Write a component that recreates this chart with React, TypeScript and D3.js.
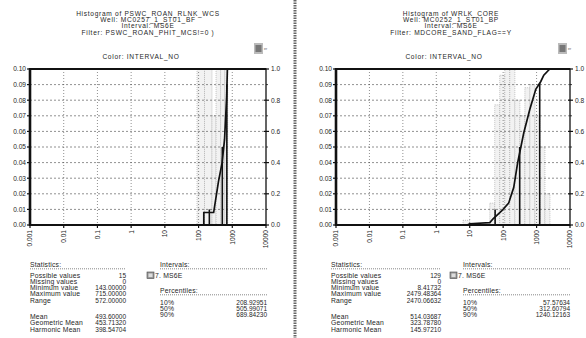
import React from "react";
import * as d3 from "d3";

const xTickValues = [0.001, 0.01, 0.1, 1, 10, 100, 1000, 10000];
const xTickLabels = ["0.001", "0.01", "0.1", "1", "10", "100", "1000", "10000"];
const freqTicks = [0, 0.01, 0.02, 0.03, 0.04, 0.05, 0.06, 0.07, 0.08, 0.09, 0.1];
const freqTickLabels = ["0.00", "0.01", "0.02", "0.03", "0.04", "0.05", "0.06", "0.07", "0.08", "0.09", "0.10"];
const cumTicks = [0, 0.2, 0.4, 0.6, 0.8, 1.0];
const cumTickLabels = ["0.0", "0.2", "0.4", "0.6", "0.8", "1.0"];
const cumMinorTicks = [0.1, 0.3, 0.5, 0.7, 0.9];

const statLabels = ["Possible values", "Missing values", "Minimum value", "Maximum value", "Range"];
const meanLabels = ["Mean", "Geometric Mean", "Harmonic Mean"];
const pctLabels = ["10%", "50%", "90%"];
const pctLevels = [0.1, 0.5, 0.9];

// Panel A
const titleA = ["Histogram of PSWC_ROAN_RLNK_WCS", "Well: MC0257_1_ST01_BF", "Interval: MS6E", "Filter: PSWC_ROAN_PHIT_MCS!=0 )"];
const binLoA = [90, 150, 250, 330, 450, 600];
const binHiA = [150, 250, 330, 450, 600, 730];
const binFreqA = [0.12, 0.13, 0.07, 0.2, 0.27, 0.27];
const cumXA = [143, 143, 280, 390, 500, 590, 680, 715];
const cumYA = [0, 0.08, 0.08, 0.28, 0.4, 0.55, 0.82, 1.0];
const statValsA = ["15", "0", "143.00000", "715.00000", "572.00000"];
const meanValsA = ["493.60000", "453.71320", "398.54704"];
const pctValsA = [208.92951, 505.99071, 689.8423];
const pctTextA = ["208.92951", "505.99071", "689.84230"];

// Panel B
const titleB = ["Histogram of WRLK_CORE", "Well: MC0252_1_ST01_BP", "Interval: MS6E", "Filter: MDCORE_SAND_FLAG==Y"];
const binLoB = [6.3, 40, 56, 79, 112, 158, 224, 316, 447, 631, 891, 1259, 1778];
const binHiB = [10, 56, 79, 112, 158, 224, 316, 447, 631, 891, 1259, 1778, 2512];
const binFreqB = [0.003, 0.014, 0.077, 0.096, 0.12, 0.12, 0.08, 0.07, 0.088, 0.09, 0.07, 0.05, 0.02];
const cumXB = [8.4, 10, 40, 50, 90, 146, 207, 272, 413, 626, 947, 1337, 1644, 2479];
const cumYB = [0, 0.008, 0.015, 0.04, 0.09, 0.14, 0.24, 0.4, 0.59, 0.74, 0.87, 0.92, 0.96, 1.0];
const statValsB = ["129", "0", "8.41732", "2479.48364", "2470.06632"];
const meanValsB = ["514.03687", "323.78780", "145.97210"];
const pctValsB = [57.57634, 312.60794, 1240.12163];
const pctTextB = ["57.57634", "312.60794", "1240.12163"];

const FONT = "'Liberation Sans', Arial, sans-serif";
const TXT = "#262626";
const FS_T = 6.6; // titles
const LS_T = 0.7;
const FS_L = 6.8; // block labels
const LS_L = 0.2;
const FS_V = 6.5; // numeric values

type PanelProps = {
  x0: number;
  x1: number;
  titleX: number;
  colorX: number;
  statX: number;
  statValX: number;
  intX: number;
  intEndX: number;
  title: string[];
  binLo: number[];
  binHi: number[];
  binFreq: number[];
  cumX: number[];
  cumY: number[];
  statVals: string[];
  meanVals: string[];
  pctVals: number[];
  pctText: string[];
};

function Panel(p: PanelProps) {
  const yTop = 69;
  const yBot = 225;
  const x = d3.scaleLog().domain([0.001, 10000]).range([p.x0, p.x1]);
  const yF = d3.scaleLinear().domain([0, 0.1]).range([yBot, yTop]).clamp(true);
  const yC = d3.scaleLinear().domain([0, 1]).range([yBot, yTop]);

  const cumPts: [number, number][] = p.cumX.map((v, i) => [x(v), yC(p.cumY[i])]);
  const line = d3.line();
  const interp = (v: number) => {
    for (let i = 1; i < p.cumX.length; i++) {
      if (v <= p.cumX[i]) {
        const a = Math.log(p.cumX[i - 1]);
        const b = Math.log(p.cumX[i]);
        const t = b === a ? 1 : (Math.log(v) - a) / (b - a);
        return p.cumY[i - 1] + t * (p.cumY[i] - p.cumY[i - 1]);
      }
    }
    return 1;
  };

  const statRowsY = [275, 281.3, 287.6, 293.9, 300.2];
  const meanRowsY = [316.5, 322.8, 329.1];
  const pctRowsY = [302.5, 308.7, 314.9];

  return (
    <g fontFamily={FONT} fill={TXT}>
      {p.title.map((t, i) => (
        <text key={i} x={p.titleX} y={15.8 + i * 6.3} fontSize={FS_T} letterSpacing={LS_T} textAnchor="middle">
          {t}
        </text>
      ))}
      <text x={p.colorX} y={59} fontSize={FS_T} letterSpacing={LS_T} textAnchor="middle">
        Color: INTERVAL_NO
      </text>
      {/* logo */}
      <g transform={`translate(${p.x1 - 12},${43})`}>
        <rect x={0} y={0} width={9} height={11} fill="#bbb" />
        <rect x={1.5} y={2} width={6} height={7} fill="#777" />
        <text x={10} y={7} fontSize={3.5} fill="#555">
          er
        </text>
      </g>

      {/* histogram bars */}
      {p.binLo.map((lo, i) => (
        <rect
          key={i}
          x={x(lo)}
          y={yF(p.binFreq[i])}
          width={x(p.binHi[i]) - x(lo)}
          height={yBot - yF(p.binFreq[i])}
          fill="#f2f2f2"
          stroke="#a0a0a0"
          strokeWidth={0.6}
          strokeDasharray="1,1"
        />
      ))}

      {/* grid */}
      {freqTicks.slice(1, 10).map((t, i) => (
        <line key={"h" + i} x1={p.x0} x2={p.x1} y1={yF(t)} y2={yF(t)} stroke="#444" strokeWidth={0.6} strokeDasharray="2,2" />
      ))}
      {xTickValues.slice(1, 7).map((t, i) => (
        <line key={"v" + i} x1={x(t)} x2={x(t)} y1={yTop} y2={yBot} stroke="#444" strokeWidth={0.6} strokeDasharray="1,2" />
      ))}

      {/* percentile lines */}
      {p.pctVals.map((v, i) => (
        <line key={"p" + i} x1={x(v)} x2={x(v)} y1={yBot} y2={yC(Math.max(pctLevels[i], interp(v)))} stroke="#111" strokeWidth={1.6} />
      ))}

      {/* cumulative */}
      <path d={line(cumPts) || ""} fill="none" stroke="#111" strokeWidth={1.7} />

      {/* frame */}
      <rect x={p.x0} y={yTop} width={p.x1 - p.x0} height={yBot - yTop} fill="none" stroke="#111" strokeWidth={1.3} />
      <line x1={p.x0} x2={p.x0} y1={yTop - 1} y2={yBot + 1} stroke="#111" strokeWidth={2.6} />
      <line x1={p.x0} x2={p.x1} y1={yBot} y2={yBot} stroke="#111" strokeWidth={2} />
      <line x1={p.x0} x2={p.x1} y1={yTop} y2={yTop} stroke="#111" strokeWidth={2} />

      {/* left ticks */}
      {freqTicks.map((t, i) => (
        <g key={"lt" + i}>
          <line x1={p.x0 - 3} x2={p.x0} y1={yF(t)} y2={yF(t)} stroke="#111" strokeWidth={1.2} />
          <text x={p.x0 - 4} y={yF(t) + 2.4} fontSize={6.6} textAnchor="end">
            {freqTickLabels[i]}
          </text>
        </g>
      ))}
      {/* right ticks */}
      {cumTicks.map((t, i) => (
        <g key={"rt" + i}>
          <line x1={p.x1 - 2} x2={p.x1 + 3} y1={yC(t)} y2={yC(t)} stroke="#111" strokeWidth={1.2} />
          <text x={p.x1 + 5} y={yC(t) + 2.4} fontSize={6.6} textAnchor="start">
            {cumTickLabels[i]}
          </text>
        </g>
      ))}
      {cumMinorTicks.map((t, i) => (
        <line key={"rm" + i} x1={p.x1} x2={p.x1 + 2} y1={yC(t)} y2={yC(t)} stroke="#111" strokeWidth={0.8} />
      ))}
      {/* bottom ticks */}
      {xTickValues.map((t, i) => (
        <g key={"bt" + i}>
          <line x1={x(t)} x2={x(t)} y1={yBot} y2={yBot + 3} stroke="#111" strokeWidth={1.2} />
          <text
            transform={`translate(${x(t) + 2.4},${yBot + 5}) rotate(-90)`}
            fontSize={6.6}
            textAnchor="end"
          >
            {xTickLabels[i]}
          </text>
        </g>
      ))}

      {/* Statistics */}
      <g fontSize={FS_L} letterSpacing={LS_L}>
        <text x={p.statX} y={266.5}>Statistics:</text>
        {statLabels.map((l, i) => (
          <text key={"s" + i} x={p.statX} y={statRowsY[i] + 2.5}>{l}</text>
        ))}
        {meanLabels.map((l, i) => (
          <text key={"m" + i} x={p.statX} y={meanRowsY[i] + 2.5}>{l}</text>
        ))}
        <text x={p.intX} y={266.5}>Intervals:</text>
        <text x={p.intX - 5} y={277.5}>7. MS6E</text>
        <text x={p.intX} y={292.5}>Percentiles:</text>
        {pctLabels.map((l, i) => (
          <text key={"pl" + i} x={p.intX} y={pctRowsY[i] + 2.5}>{l}</text>
        ))}
      </g>
      <g fontSize={FS_V} textAnchor="end">
        {p.statVals.map((v, i) => (
          <text key={"sv" + i} x={p.statValX} y={statRowsY[i] + 2.5}>{v}</text>
        ))}
        {p.meanVals.map((v, i) => (
          <text key={"mv" + i} x={p.statValX} y={meanRowsY[i] + 2.5}>{v}</text>
        ))}
        {p.pctText.map((v, i) => (
          <text key={"pv" + i} x={p.intEndX} y={pctRowsY[i] + 2.5}>{v}</text>
        ))}
      </g>
      <line x1={p.statX} x2={p.statValX} y1={268.8} y2={268.8} stroke="#555" strokeWidth={0.7} strokeDasharray="1,1" />
      <line x1={p.intX} x2={p.intEndX} y1={268.8} y2={268.8} stroke="#555" strokeWidth={0.7} strokeDasharray="1,1" />
      <line x1={p.intX} x2={p.intEndX} y1={294.8} y2={294.8} stroke="#555" strokeWidth={0.7} strokeDasharray="1,1" />
      <rect x={p.intX - 13} y={272} width={7} height={6.5} fill="#999" stroke="#444" strokeWidth={0.6} />
      <rect x={p.intX - 11.5} y={273.5} width={4} height={3.5} fill="#ddd" />
    </g>
  );
}

export default function App() {
  return (
    <svg width={586} height={338} style={{ position: "absolute", left: 0, top: 0, background: "#fff" }}>
      <rect x={0} y={0} width={586} height={338} fill="#fff" />
      <Panel
        x0={30}
        x1={266}
        titleX={148}
        colorX={141}
        statX={30}
        statValX={126}
        intX={160}
        intEndX={267}
        title={titleA}
        binLo={binLoA}
        binHi={binHiA}
        binFreq={binFreqA}
        cumX={cumXA}
        cumY={cumYA}
        statVals={statValsA}
        meanVals={meanValsA}
        pctVals={pctValsA}
        pctText={pctTextA}
      />
      <line x1={295} x2={295} y1={0} y2={338} stroke="#666" strokeWidth={3} strokeDasharray="1.5,1" />
      <Panel
        x0={336}
        x1={570}
        titleX={451}
        colorX={444}
        statX={331}
        statValX={441}
        intX={463}
        intEndX={570}
        title={titleB}
        binLo={binLoB}
        binHi={binHiB}
        binFreq={binFreqB}
        cumX={cumXB}
        cumY={cumYB}
        statVals={statValsB}
        meanVals={meanValsB}
        pctVals={pctValsB}
        pctText={pctTextB}
      />
    </svg>
  );
}
